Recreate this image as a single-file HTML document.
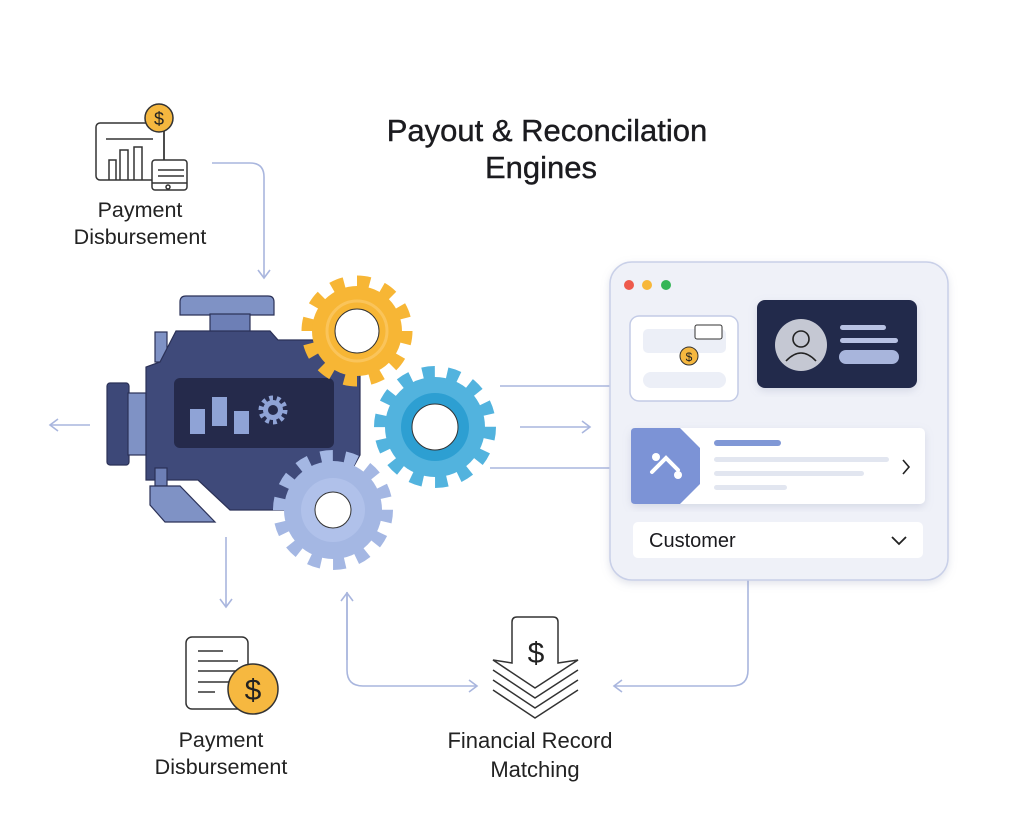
<!DOCTYPE html>
<html><head><meta charset="utf-8"><style>
html,body{margin:0;padding:0;background:#fff}
svg{display:block}
text{font-family:"Liberation Sans",sans-serif}
</style></head><body>
<svg width="1024" height="822" viewBox="0 0 1024 822" xmlns="http://www.w3.org/2000/svg">
<defs>
<marker id="ah" markerWidth="14" markerHeight="14" refX="10" refY="7" orient="auto" markerUnits="userSpaceOnUse">
<path d="M2,1 L10,7 L2,13" fill="none" stroke="#a9b6de" stroke-width="1.6"/></marker>
<filter id="sh" x="-10%" y="-10%" width="120%" height="120%"><feDropShadow dx="0" dy="3" stdDeviation="4" flood-color="#8890b0" flood-opacity="0.25"/></filter>
</defs>
<rect width="1024" height="822" fill="#fff"/>
<text x="547" y="141" font-size="31" text-anchor="middle" fill="#1b1b1f" stroke="#1b1b1f" stroke-width="0.4">Payout &amp; Reconcilation</text>
<text x="541" y="178" font-size="31" text-anchor="middle" fill="#1b1b1f" stroke="#1b1b1f" stroke-width="0.4">Engines</text>

<g fill="none" stroke="#a9b6de" stroke-width="1.6">
<path d="M212,163 H250 Q264,163 264,177 V278" marker-end="url(#ah)"/>
<path d="M90,425 H50" marker-end="url(#ah)"/>
<path d="M226,537 V607" marker-end="url(#ah)"/>
<path d="M500,386 H610"/>
<path d="M520,427 H590" marker-end="url(#ah)"/>
<path d="M490,468 H610"/>
<path d="M748,580 V670 Q748,686 732,686 H614" marker-end="url(#ah)"/>
<path d="M347,592 V670 Q347,686 363,686 H477" marker-end="url(#ah)"/>
<path d="M347,660 V593" marker-end="url(#ah)"/>
</g>

<!-- top icon -->
<g fill="none" stroke="#333" stroke-width="1.5">
<rect x="96" y="123" width="68" height="57" rx="4" fill="#fff"/>
<path d="M106,139 H153 M109,180 V160 H116 V180 M120,180 V150 H128 V180 M134,180 V147 H142 V180"/>
<path d="M164,128 V160"/>
<rect x="152" y="160" width="35" height="30" rx="3" fill="#fff"/>
<path d="M158,170 H184 M158,176 H184 M152,183 H187"/>
<circle cx="168" cy="187" r="2"/>
<circle cx="159" cy="118" r="14" fill="#f5b73f"/>
</g>
<text x="159" y="125" font-size="18" text-anchor="middle" fill="#222">$</text>
<text x="140" y="217" font-size="21.5" text-anchor="middle" fill="#222">Payment</text>
<text x="140" y="244" font-size="21.5" text-anchor="middle" fill="#222">Disbursement</text>

<!-- engine -->
<g stroke="#2b3157" stroke-width="1.2">
<path d="M180,302 Q180,296 186,296 H268 Q274,296 274,302 V315 H180 Z" fill="#7f92c5"/>
<rect x="210" y="314" width="40" height="18" fill="#6d7fb6"/>
<rect x="155" y="332" width="12" height="30" fill="#7f92c5"/>
<rect x="107" y="383" width="22" height="82" rx="3" fill="#3d4878"/>
<rect x="128" y="393" width="18" height="62" fill="#7f92c5"/>
<path d="M176,331 H270 L278,340 H345 L360,345 V455 L330,510 H230 L198,480 H146 V367 L160,362 Z" fill="#3f4a7a"/>
<rect x="155" y="468" width="12" height="18" fill="#6d7fb6"/>
<path d="M150,486 H180 L215,522 H165 L150,505 Z" fill="#7f92c5"/>
</g>
<rect x="174" y="378" width="160" height="70" rx="6" fill="#252a4b"/>
<rect x="190" y="409" width="15" height="25" fill="#8fa3d6"/>
<rect x="212" y="397" width="15" height="29" fill="#8fa3d6"/>
<rect x="234" y="411" width="15" height="23" fill="#8fa3d6"/>
<circle cx="273" cy="410" r="12" fill="none" stroke="#8fa3d6" stroke-width="5" pathLength="20" stroke-dasharray="1 1"/>
<circle cx="273" cy="410" r="10" fill="#8fa3d6"/>
<circle cx="273" cy="410" r="5" fill="#252a4b"/>

<!-- gears -->
<g>
<circle cx="357" cy="331" r="49" fill="none" stroke="#f7b635" stroke-width="13" pathLength="24" stroke-dasharray="1 1"/>
<circle cx="357" cy="331" r="45" fill="#f7b635"/>
<circle cx="357" cy="331" r="30" fill="none" stroke="#fac45a" stroke-width="3"/>
<circle cx="357" cy="331" r="22" fill="#fff" stroke="#333" stroke-width="1"/>

<circle cx="435" cy="427" r="54" fill="none" stroke="#52b3de" stroke-width="14" pathLength="28" stroke-dasharray="1 1"/>
<circle cx="435" cy="427" r="50" fill="#52b3de"/>
<circle cx="435" cy="427" r="34" fill="#2d9fd2"/>
<circle cx="435" cy="427" r="23" fill="#fff" stroke="#333" stroke-width="1"/>

<circle cx="333" cy="510" r="53" fill="none" stroke="#a4b7e3" stroke-width="14" pathLength="28" stroke-dasharray="1 1"/>
<circle cx="333" cy="510" r="49" fill="#a4b7e3"/>
<circle cx="333" cy="510" r="32" fill="#b0c1ea"/>
<circle cx="333" cy="510" r="18" fill="#fff" stroke="#333" stroke-width="1"/>
</g>

<!-- panel -->
<rect x="610" y="262" width="338" height="318" rx="22" fill="#eff1f8" stroke="#c9d0e8" stroke-width="1.5" filter="url(#sh)"/>
<circle cx="629" cy="285" r="5" fill="#ee5a4c"/>
<circle cx="647" cy="285" r="5" fill="#f7b73a"/>
<circle cx="666" cy="285" r="5" fill="#35b557"/>
<rect x="630" y="316" width="108" height="85" rx="9" fill="#fff" stroke="#c3cbe6" stroke-width="1.5"/>
<rect x="643" y="329" width="83" height="24" rx="5" fill="#eceff7"/>
<rect x="643" y="372" width="83" height="16" rx="8" fill="#eceff7"/>
<rect x="695" y="325" width="27" height="14" rx="2" fill="#fff" stroke="#333" stroke-width="1"/>
<circle cx="689" cy="356" r="9" fill="#f5b73f" stroke="#333" stroke-width="1"/>
<text x="689" y="361" font-size="12" text-anchor="middle" fill="#222">$</text>
<rect x="757" y="300" width="160" height="88" rx="8" fill="#24294b" filter="url(#sh)"/>
<circle cx="801" cy="345" r="26" fill="#c5c8d3"/>
<circle cx="801" cy="339" r="8" fill="none" stroke="#222" stroke-width="1.6"/>
<path d="M786,361 Q801,345 816,361" fill="none" stroke="#222" stroke-width="1.6"/>
<rect x="840" y="325" width="46" height="5" rx="2.5" fill="#b8c2e3"/>
<rect x="840" y="338" width="58" height="5" rx="2.5" fill="#b8c2e3"/>
<rect x="839" y="350" width="60" height="14" rx="7" fill="#a8b5dc"/>
<rect x="631" y="428" width="294" height="76" rx="5" fill="#fff" filter="url(#sh)"/>
<path d="M631,432 Q631,428 635,428 H680 L700,448 V484 L680,504 H635 Q631,504 631,500 Z" fill="#7c93d6"/>
<circle cx="656" cy="457" r="4" fill="#fff"/><circle cx="678" cy="475" r="4" fill="#fff"/>
<path d="M652,472 L666,458 L678,470" fill="none" stroke="#fff" stroke-width="4" stroke-linecap="round"/>
<rect x="714" y="440" width="67" height="6" rx="3" fill="#8098d6"/>
<rect x="714" y="457" width="175" height="5" rx="2.5" fill="#e2e6f0"/>
<rect x="714" y="471" width="150" height="5" rx="2.5" fill="#e2e6f0"/>
<rect x="714" y="485" width="73" height="5" rx="2.5" fill="#e2e6f0"/>
<path d="M903,460 L909,467 L903,474" fill="none" stroke="#222" stroke-width="1.6"/>
<rect x="633" y="522" width="290" height="36" rx="5" fill="#fff"/>
<text x="649" y="547" font-size="20" fill="#1b1b1f">Customer</text>
<path d="M892,537 L899,544 L906,537" fill="none" stroke="#222" stroke-width="1.8"/>

<!-- bottom left icon -->
<rect x="186" y="637" width="62" height="72" rx="6" fill="#fff" stroke="#333" stroke-width="1.5"/>
<g stroke="#333" stroke-width="1.5"><path d="M198,651 H223 M198,661 H238 M198,671 H238 M198,682 H230 M198,692 H215"/></g>
<circle cx="253" cy="689" r="25" fill="#f6b840" stroke="#333" stroke-width="1.5"/>
<text x="253" y="700" font-size="30" text-anchor="middle" fill="#222">$</text>
<text x="221" y="747" font-size="21.5" text-anchor="middle" fill="#222">Payment</text>
<text x="221" y="774" font-size="21.5" text-anchor="middle" fill="#222">Disbursement</text>

<!-- bottom right icon -->
<g fill="none" stroke="#333" stroke-width="1.5">
<path d="M512,663 V622 Q512,617 517,617 H553 Q558,617 558,622 V663 L578,660 L535,688 L493,660 Z" fill="#fff"/>
<path d="M493,670 L535,698 L578,670 M493,680 L535,708 L578,680 M493,690 L535,718 L578,690"/>
</g>
<text x="536" y="663" font-size="30" text-anchor="middle" fill="#222">$</text>
<text x="530" y="748" font-size="22" text-anchor="middle" fill="#222">Financial Record</text>
<text x="535" y="777" font-size="22" text-anchor="middle" fill="#222">Matching</text>
</svg>
</body></html>
